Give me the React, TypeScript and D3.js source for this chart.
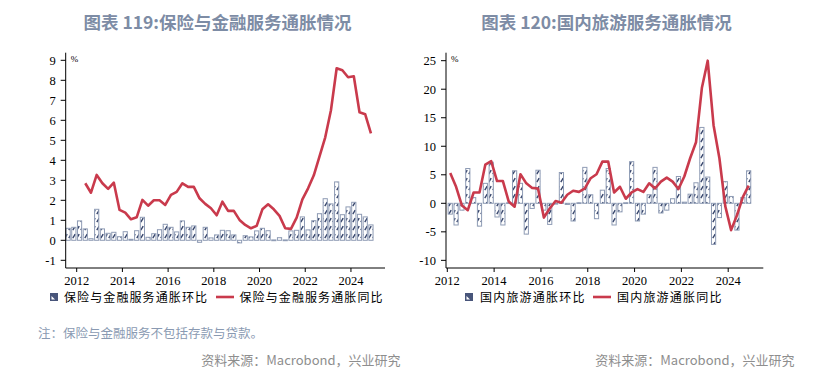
import React from "react";
import * as d3 from "d3";

// ---------- data ----------
// Left: 保险与金融服务通胀 (quarterly, from 2011Q3)
const leftStart = { year: 2011, quarter: 3 };
const leftQoQ = [
  0.6, 0.65, 0.97, 0.57, 0.08, 1.55, 0.57, 0.35, 0.4, 0.18,
  0.43, 0.05, 0.48, 1.15, 0.15, 0.33, 0.53, 0.8, 0.65, 0.42,
  0.97, 0.65, 0.72, -0.1, 0.65, 0.12, 0.27, 0.5, 0.48, 0.27,
  -0.13, 0.23, 0.17, 0.47, 0.6, 0.48, 0.02, 0.13, 0.02, 0.47,
  0.5, 1.17, 0.52, 0.98, 1.33, 2.08, 1.82, 2.92, 1.28, 1.67,
  1.9, 1.3, 1.17, 0.77,
];
const leftYoY: (number | null)[] = [
  null, null, null, 2.85, 2.38, 3.27, 2.85, 2.57, 2.88, 1.52,
  1.38, 1.05, 1.15, 2.02, 1.73, 2.0, 2.0, 1.77, 2.27, 2.42,
  2.85, 2.67, 2.67, 2.1, 1.82, 1.6, 1.25, 1.93, 1.47, 1.47,
  1.02, 0.77, 0.6, 0.72, 1.55, 1.8, 1.55, 1.22, 0.6, 0.57,
  1.13, 2.05, 2.6, 3.25, 4.2, 5.15, 6.5, 8.6, 8.5, 8.15,
  8.2, 6.4, 6.3, 5.35,
];
const leftYTicks = [-1, 0, 1, 2, 3, 4, 5, 6, 7, 8, 9];

// Right: 国内旅游通胀 (quarterly, from 2012Q1)
const rightStart = { year: 2012, quarter: 1 };
const rightQoQ = [
  -1.9, -3.8, -1.2, 6.1, 1.0, -4.0, 3.5, 7.2, -2.4, -3.8,
  0.1, 5.7, 3.5, -5.4, -0.9, 5.8, -1.2, -3.7, 0.0, 5.4,
  -0.2, -3.1, 0.1, 6.3, 1.5, -2.7, 2.3, 6.1, -3.8, -1.5,
  0.1, 7.3, -3.1, -1.9, 1.5, 6.3, -1.7, -1.2, 0.8, 4.7,
  0.2, 1.6, 3.6, 13.3, 4.6, -7.2, -2.5, 3.8, 1.2, -4.7,
  1.0, 5.7,
];
const rightYoY: (number | null)[] = [
  5.3, 2.9, -0.4, -1.2, 1.9, 1.9, 6.8, 7.4, 3.9, 3.9,
  0.3, -0.6, 5.1, 3.5, 2.7, 2.6, -2.5, -0.9, 0.4, 0.1,
  1.5, 2.2, 2.0, 2.6, 4.4, 5.1, 7.3, 7.3, 1.9, 2.9,
  0.8, 1.9, 2.5, 2.0, 3.5, 2.6, 3.8, 4.5, 3.8, 2.5,
  4.7, 7.9, 10.7, 20.2, 25.0, 13.7, 7.9, -0.5, -4.7, -2.1,
  1.1, 3.1,
];
const rightYTicks = [-10, -5, 0, 5, 10, 15, 20, 25];

const xTickYears = [2012, 2014, 2016, 2018, 2020, 2022, 2024];

const leftTitle = "图表 119:保险与金融服务通胀情况";
const rightTitle = "图表 120:国内旅游服务通胀情况";
const leftLegend = ["保险与金融服务通胀环比", "保险与金融服务通胀同比"];
const rightLegend = ["国内旅游通胀环比", "国内旅游通胀同比"];
const noteText = "注：保险与金融服务不包括存款与贷款。";
const sourceText = "资料来源：Macrobond，兴业研究";

// ---------- helpers ----------
// mid-quarter decimal year for quarter index i starting from a given quarter
function quarterMid(start: { year: number; quarter: number }, i: number) {
  const q0 = start.year * 4 + (start.quarter - 1) + i;
  return Math.floor(q0 / 4) + (q0 % 4) * 0.25 + 0.125;
}

const RED = "#c93a4c";
const TITLE_COLOR = "#7d8ca5";
const SERIF = "'Liberation Serif', 'DejaVu Serif', serif";
const CJK = "'Noto Sans CJK SC', 'Noto Sans', sans-serif";

type PanelProps = {
  id: string;
  start: { year: number; quarter: number };
  qoq: number[];
  yoy: (number | null)[];
  yTicks: number[];
  xDomain: [number, number];
  xRange: [number, number];
  yDomain: [number, number];
  yRange: [number, number];
};

function Panel(p: PanelProps) {
  const x = d3.scaleLinear().domain(p.xDomain).range(p.xRange);
  const y = d3.scaleLinear().domain(p.yDomain).range(p.yRange);
  const barW = 4.2;
  const line = d3
    .line<{ t: number; v: number | null }>()
    .defined((d) => d.v !== null)
    .x((d) => x(d.t))
    .y((d) => y(d.v as number));
  const pts = p.yoy.map((v, i) => ({ t: quarterMid(p.start, i), v }));
  const [x0, x1] = p.xRange;
  const [yb, yt] = p.yRange;
  return (
    <g>
      {/* bars */}
      {p.qoq.map((v, i) => {
        const cx = x(quarterMid(p.start, i));
        const y0 = y(0);
        const yv = y(v);
        const top = Math.min(y0, yv);
        const h = Math.max(Math.abs(yv - y0), 0.8);
        return (
          <rect
            key={i}
            x={cx - barW / 2}
            y={top}
            width={barW}
            height={h}
            fill={`url(#hatch-${p.id})`}
            stroke="#8f9cb5"
            strokeWidth={1}
          />
        );
      })}
      {/* line */}
      <path d={line(pts) || ""} fill="none" stroke={RED} strokeWidth={2.6} strokeLinejoin="round" />
      {/* y axis */}
      <line x1={x0} x2={x0} y1={yt} y2={yb} stroke="#000" strokeWidth={1} />
      {p.yTicks.map((t) => (
        <g key={t}>
          <line x1={x0 - 5} x2={x0} y1={y(t)} y2={y(t)} stroke="#000" strokeWidth={1} />
          <text
            x={x0 - 10}
            y={y(t)}
            dy="0.35em"
            textAnchor="end"
            fontFamily={SERIF}
            fontSize={12.5}
            fill="#000"
          >
            {t}
          </text>
        </g>
      ))}
      <text x={x0 + 5} y={yt + 9} fontFamily={SERIF} fontSize={9} fill="#000">
        %
      </text>
      {/* x axis */}
      <line x1={x0} x2={x1} y1={yb} y2={yb} stroke="#000" strokeWidth={1} />
      {xTickYears.map((yr) => (
        <g key={yr}>
          <line x1={x(yr)} x2={x(yr)} y1={yb} y2={yb + 4} stroke="#000" strokeWidth={1} />
          <text
            x={x(yr)}
            y={yb + 17}
            textAnchor="middle"
            fontFamily={SERIF}
            fontSize={12.5}
            fill="#000"
          >
            {yr}
          </text>
        </g>
      ))}
    </g>
  );
}

function LegendSwatch({ x, y }: { x: number; y: number }) {
  return (
    <g>
      <rect x={x} y={y} width={8} height={8} fill="#48557a" />
      <polygon points={`${x + 1.5},${y + 6.5} ${x + 1.5},${y + 3} ${x + 5},${y + 6.5}`} fill="#fff" />
    </g>
  );
}

export default function App() {
  return (
    <svg
      width={829}
      height={379}
      viewBox="0 0 829 379"
      style={{ position: "absolute", left: 0, top: 0, background: "#fff" }}
    >
      <defs>
        {["L", "R"].map((id) => (
          <pattern key={id} id={`hatch-${id}`} patternUnits="userSpaceOnUse" width={4} height={8}>
            <rect width={4} height={8} fill="#ffffff" />
            <path d="M0.8,6.2 L3.2,2.2" stroke="#34436a" strokeWidth={1.4} />
          </pattern>
        ))}
      </defs>
      <rect width={829} height={379} fill="#fff" />

      {/* titles */}
      <text x={217.5} y={29} textAnchor="middle" fontFamily={CJK} fontWeight={700} fontSize={17.5} fill={TITLE_COLOR}>
        {leftTitle}
      </text>
      <text x={606.5} y={29} textAnchor="middle" fontFamily={CJK} fontWeight={700} fontSize={17.5} fill={TITLE_COLOR}>
        {rightTitle}
      </text>

      <Panel
        id="L"
        start={leftStart}
        qoq={leftQoQ}
        yoy={leftYoY}
        yTicks={leftYTicks}
        xDomain={[2011.519, 2025.49]}
        xRange={[65.7, 385]}
        yDomain={[-1.385, 9.38]}
        yRange={[268, 52.7]}
      />
      <Panel
        id="R"
        start={rightStart}
        qoq={rightQoQ}
        yoy={rightYoY}
        yTicks={rightYTicks}
        xDomain={[2011.944, 2025.5]}
        xRange={[446, 763.3]}
        yDomain={[-11.34, 26.4]}
        yRange={[268, 52.7]}
      />

      {/* legends */}
      <LegendSwatch x={50} y={293} />
      <text x={64} y={301.5} fontFamily={CJK} fontSize={12} letterSpacing={1.1} fill="#000">
        {leftLegend[0]}
      </text>
      <line x1={216} x2={234} y1={297} y2={297} stroke={RED} strokeWidth={2.6} />
      <text x={239.5} y={301.5} fontFamily={CJK} fontSize={12} letterSpacing={1.1} fill="#000">
        {leftLegend[1]}
      </text>

      <LegendSwatch x={465} y={293} />
      <text x={480} y={301.5} fontFamily={CJK} fontSize={12} letterSpacing={1.2} fill="#000">
        {rightLegend[0]}
      </text>
      <line x1={593} x2={611} y1={297} y2={297} stroke={RED} strokeWidth={2.6} />
      <text x={617} y={301.5} fontFamily={CJK} fontSize={12} letterSpacing={1.2} fill="#000">
        {rightLegend[1]}
      </text>

      {/* footnote + sources */}
      <text x={38} y={338} fontFamily={CJK} fontSize={12.5} fill="#8a9ab2">
        {noteText}
      </text>
      <text x={400.5} y={364.5} textAnchor="end" fontFamily={CJK} fontSize={13} fill="#8e8e8e">
        {sourceText}
      </text>
      <text x={794.5} y={364.5} textAnchor="end" fontFamily={CJK} fontSize={13} fill="#8e8e8e">
        {sourceText}
      </text>
    </svg>
  );
}
